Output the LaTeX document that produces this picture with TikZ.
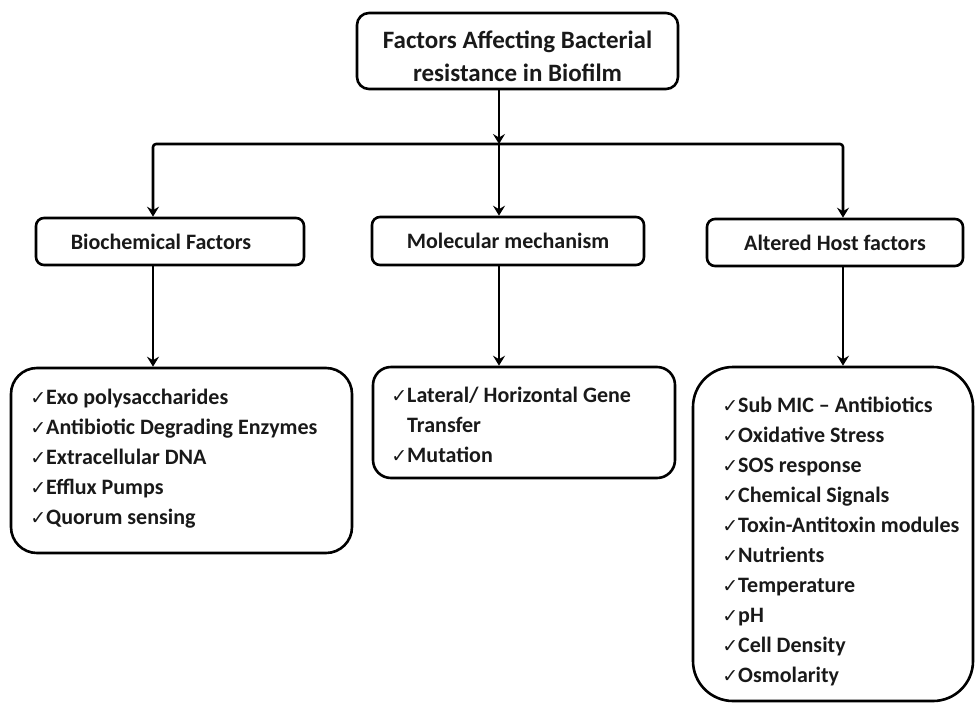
\documentclass[tikz,border=0pt]{standalone}
\usepackage{fontspec}
\setmainfont{Carlito}
\newfontfamily\ckfont{DejaVu Sans}
\usetikzlibrary{arrows.meta}

% small tick in front of each list entry
\newcommand\ck{{\ckfont\fontsize{19}{19}\selectfont ✓}}

\begin{document}
\begin{tikzpicture}[x=1pt,y=-1pt,
  line width=2.6pt,
  every node/.style={font=\bfseries\fontsize{22}{29.8}\selectfont, text=black!90},
  headbox/.style={draw=black, rounded corners=12pt, inner sep=0pt, align=center},
  catbox/.style={draw=black, rounded corners=8pt, inner sep=0pt},
  listbox/.style={draw=black, inner sep=0pt},
  itemlist/.style={align=left, inner sep=0pt, anchor=base west},
  conn/.style={draw=black, -{Stealth[length=10pt,width=12pt,inset=3.5pt]}, line join=round}
]
\useasboundingbox (0,0) rectangle (976,704);

% title
\node[headbox, minimum width=321pt, minimum height=76pt,
      font=\bfseries\fontsize{25}{33}\selectfont] (top) at (517.5,51)
  {\rule{0pt}{28pt}Factors Affecting Bacterial\\resistance in Biofilm};

% categories
\node[catbox, minimum width=268pt, minimum height=47pt] (bio) at (170,241.5) {Biochemical Factors\hspace*{18pt}};
\node[catbox, minimum width=272pt, minimum height=48pt] (mol) at (508,241) {Molecular mechanism};
\node[catbox, minimum width=256pt, minimum height=47pt] (alt) at (835,242.5) {Altered Host factors};

% detail boxes
\node[listbox, rounded corners=26pt, minimum width=341pt, minimum height=185pt] (lb) at (181.5,460.5) {};
\node[listbox, rounded corners=18pt, minimum width=302pt, minimum height=111pt] (mb) at (524,422.5) {};
\node[listbox, rounded corners=40pt, minimum width=280pt, minimum height=334pt] (rb) at (833,534) {};

% item lists, placed by the baseline of their last line
\node[itemlist] (lbtext) at (29,524)
  {\ck Exo polysaccharides\\
   \ck Antibiotic Degrading Enzymes\\
   \ck Extracellular DNA\\
   \ck Efflux Pumps\\
   \ck Quorum sensing};

\node[itemlist] (mbtext) at (390,462)
  {\ck Lateral/ Horizontal Gene\\
   \hphantom{\ck}Transfer\\
   \ck Mutation};

\node[itemlist, font=\bfseries\fontsize{22}{29.9}\selectfont] (rbtext) at (721,682)
  {\ck Sub MIC – Antibiotics\\
   \ck Oxidative Stress\\
   \ck SOS response\\
   \ck Chemical Signals\\
   \ck Toxin-Antitoxin modules\\
   \ck Nutrients\\
   \ck Temperature\\
   \ck pH\\
   \ck Cell Density\\
   \ck Osmolarity};

% distribution bus
\coordinate (hub) at (499,144);
\coordinate (hubL) at (153,144);
\coordinate (hubR) at (843,144);

\draw[conn] (top.south -| hub) -- (hub);
\draw[conn, rounded corners=3pt] (hub) -- (hubL) -- (hubL |- bio.north);
\draw[conn, rounded corners=3pt] (hub) -- (hubR) -- (hubR |- alt.north);
\draw[conn] (hub) -- (hub |- mol.north);

\draw[conn] (bio.south -| hubL) -- (hubL |- lb.north);
\draw[conn] (mol.south -| hub) -- (hub |- mb.north);
\draw[conn] (alt.south -| hubR) -- (hubR |- rb.north);
\end{tikzpicture}
\end{document}
